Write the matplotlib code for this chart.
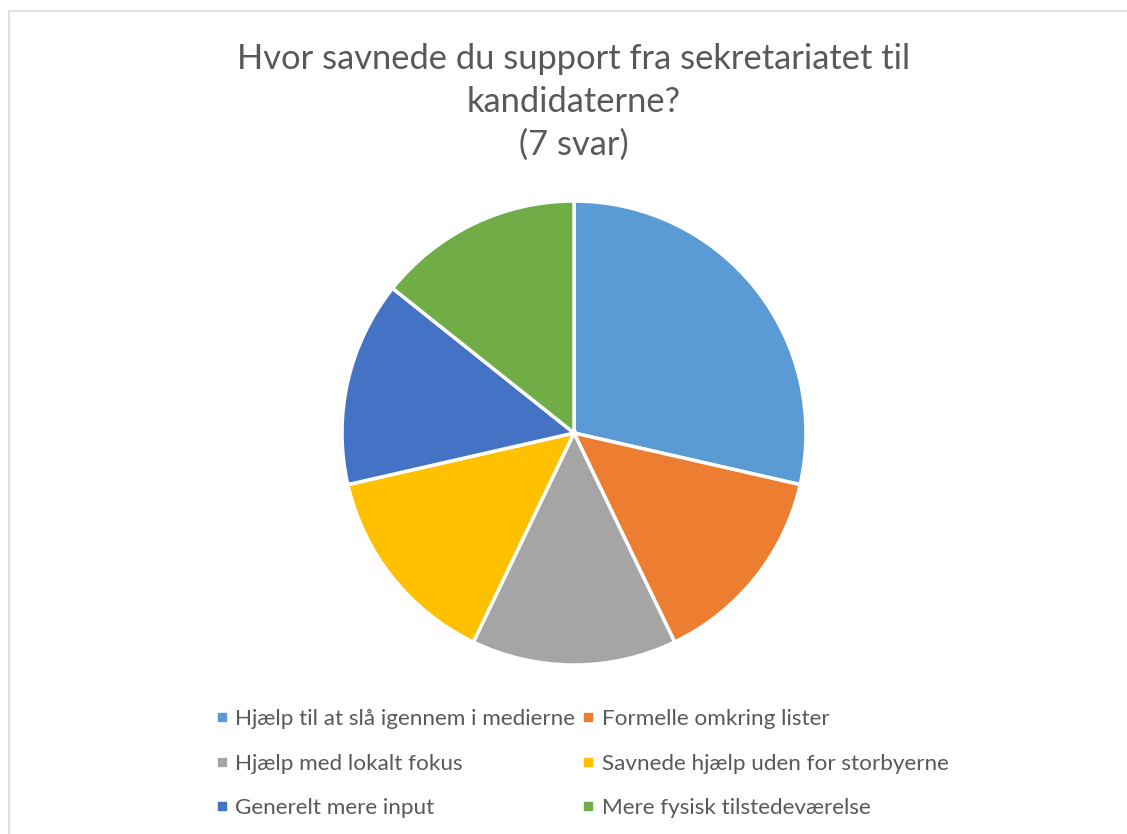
import matplotlib.pyplot as plt
from matplotlib.lines import Line2D
from matplotlib.patches import Rectangle

plt.rcParams['font.family'] = ['Lato', 'DejaVu Sans']

labels = ['Hjælp til at slå igennem i medierne', 'Formelle omkring lister',
          'Hjælp med lokalt fokus', 'Savnede hjælp uden for storbyerne',
          'Generelt mere input', 'Mere fysisk tilstedeværelse']
svar = [2, 1, 1, 1, 1, 1]
farver = ['#5B9BD5', '#ED7D31', '#A5A5A5', '#FFC000', '#4472C4', '#70AD47']
tekst = '#595959'

W, H = 1127, 834
fig = plt.figure(figsize=(W / 100, H / 100), dpi=100)

# lys ramme omkring diagrammet
fig.patches.append(Rectangle((9 / W, -0.1), 1.2, (H - 11) / H + 0.1,
                             transform=fig.transFigure, fill=False,
                             edgecolor='#D9D9D9', linewidth=1.2))

cx, cy, r = 574, 433, 232
ax = fig.add_axes([(cx - r) / W, (H - cy - r) / H, 2 * r / W, 2 * r / H])
ax.pie(svar, colors=farver, startangle=90, counterclock=False,
       wedgeprops=dict(edgecolor='white', linewidth=2.5))
ax.set_xlim(-1, 1)
ax.set_ylim(-1, 1)
ax.set_aspect('equal')

fig.text(574 / W, 1 - 102 / H,
         'Hvor savnede du support fra sekretariatet til\nkandidaterne?\n(7 svar)',
         ha='center', va='center', fontsize=24.8, color=tekst, linespacing=1.42)

# legenden udfyldes række for række
orden = [0, 2, 4, 1, 3, 5]
handles = [Line2D([], [], linestyle='none', marker='s', markersize=6,
                  color=farver[i]) for i in orden]
fig.legend(handles, [labels[i] for i in orden], ncol=2, frameon=False,
           loc='upper left', bbox_to_anchor=(196 / W, 1 - 689 / H),
           fontsize=16.2, labelcolor=tekst, handlelength=0.5,
           handletextpad=0.35, columnspacing=0.33, labelspacing=1.08)

fig.savefig('out.png', dpi=100)
